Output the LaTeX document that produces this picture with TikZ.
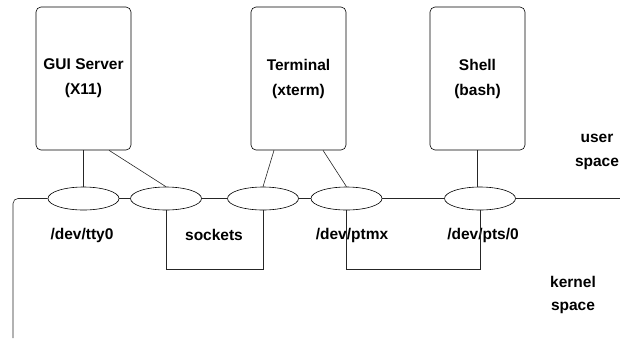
\documentclass[tikz,border=0pt]{standalone}
\usepackage{fontspec}
\setmainfont{Liberation Sans}
\usetikzlibrary{positioning,calc,shapes.geometric}
\tikzset{
  % --- nodes ------------------------------------------------------------
  proc/.style  ={draw, rounded corners=5pt, line width=0.6pt, align=center,
                 minimum width=95pt, minimum height=143pt, inner sep=0,
                 font=\bfseries\fontsize{15.5}{25}\selectfont},
  dev/.style   ={ellipse, draw, line width=0.6pt, minimum width=71pt,
                 minimum height=23pt, inner sep=0},
  lab/.style   ={font=\bfseries\fontsize{15.5}{23.5}\selectfont, align=center,
                 inner sep=0},
  % --- wires ------------------------------------------------------------
  wire/.style  ={line width=0.6pt, draw=black!85},
}

\begin{document}
\begin{tikzpicture}[x=1pt, y=-1pt]
  \useasboundingbox (0,0) rectangle (620,338);

  % ============================ user-space processes ============================
  \node[proc] (gui)   at (83.5,78.5)  {GUI Server\\(X11)};
  \node[proc] (term)  at (298.5,78.5) {Terminal\\(xterm)};
  \node[proc] (shell) at (477.5,78.5) {Shell\\(bash)};

  % ============================ device endpoints ============================
  \node[dev] (tty)  at (83.5,198.5)  {};
  \node[dev] (sock) at (166,198.5)   {};
  \node[dev] (sckb) at (263,198.5)   {};
  \node[dev] (ptmx) at (346.5,198.5) {};
  \node[dev] (pts)  at (480,198.5)   {};

  \coordinate (rend) at (620,198.5);
  \coordinate (lend) at (13,338);

  % ============================ labels ============================
  \node[lab] (ltty)  at (82,235)  {/dev/tty0};
  \node[lab] (lsock) at (214,235) {sockets};
  \node[lab] (lptmx) at (352,235) {/dev/ptmx};
  \node[lab] (lpts)  at (483,235) {/dev/pts/0};
  \node[lab] (user)  at (597,152) {user\\space};
  \node[lab] (kern)  at (573,295) {kernel\\space};

  % ============================ user/kernel boundary ============================
  \draw[wire, rounded corners=5pt] (tty.west) -| (lend);
  \draw[wire] (tty.east)  -- (sock.west);
  \draw[wire] (sock.east) -- (sckb.west);
  \draw[wire] (sckb.east) -- (ptmx.west);
  \draw[wire] (ptmx.east) -- (pts.west);
  \draw[wire] (pts.east)  -- (rend);

  % ============================ process -> device ============================
  \draw[wire] (gui.south) -- (tty.north);
  \draw[wire] ([xshift=25.5pt]gui.south) -- (sock.north);
  \draw[wire] ([xshift=-24.5pt]term.south) -- (sckb.north);
  \draw[wire] ([xshift=24.5pt]term.south) -- (ptmx.north);
  \draw[wire] (shell.south) -- (shell.south |- pts.north);

  % ============================ kernel-side pairs ============================
  \draw[wire] (sock.south) -- ++(0,59) -| (sckb.south);
  \draw[wire] (ptmx.south) -- ++(0,59) -| (pts.south);

\end{tikzpicture}
\end{document}
